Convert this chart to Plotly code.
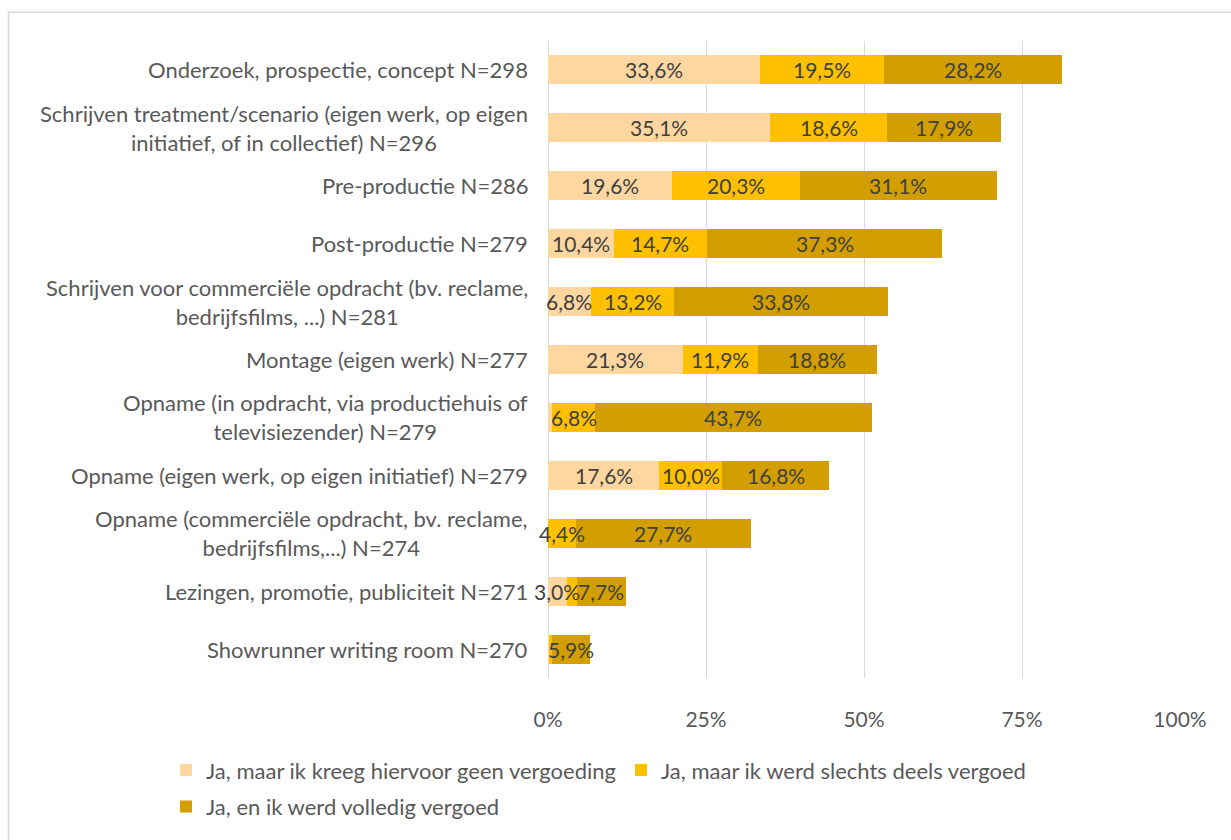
import plotly.graph_objects as go

categories = [
    "Onderzoek, prospectie, concept N=298",
    "Schrijven treatment/scenario (eigen werk, op eigen<br>initiatief, of in collectief) N=296",
    "Pre-productie N=286",
    "Post-productie N=279",
    "Schrijven voor commerciële opdracht (bv. reclame,<br>bedrijfsfilms, ...) N=281",
    "Montage (eigen werk) N=277",
    "Opname (in opdracht, via productiehuis of<br>televisiezender) N=279",
    "Opname (eigen werk, op eigen initiatief) N=279",
    "Opname (commerciële opdracht, bv. reclame,<br>bedrijfsfilms,...) N=274",
    "Lezingen, promotie, publiciteit N=271",
    "Showrunner writing room N=270",
]

geen_vergoeding = [33.6, 35.1, 19.6, 10.4, 6.8, 21.3, 0.7, 17.6, 0.0, 3.0, 0.2]
deels_vergoed = [19.5, 18.6, 20.3, 14.7, 13.2, 11.9, 6.8, 10.0, 4.4, 1.6, 0.5]
volledig_vergoed = [28.2, 17.9, 31.1, 37.3, 33.8, 18.8, 43.7, 16.8, 27.7, 7.7, 5.9]

series_names = [
    "Ja, maar ik kreeg hiervoor geen vergoeding",
    "Ja, maar ik werd slechts deels vergoed",
    "Ja, en ik werd volledig vergoed",
]
colors = ["#FED7A0", "#FFC000", "#D29E00"]
x_ticks = [0, 25, 50, 75, 100]
x_ticklabels = ["0%", "25%", "50%", "75%", "100%"]

FONT = "Lato"
FS_CAT = 22
FS_VAL = 21
FS_TICK = 21
FS_LEG = 22
W, H = 1231, 840
L, R, T, B = 548, 51, 40.6, 152.6
PW, PH = W - L - R, H - T - B


def px_x(p):
    return (p - L) / PW


def px_y(p):
    return (H - B - p) / PH


def label(v):
    return (f"{v:.1f}%".replace(".", ",")) if v >= 2 else ""


series = [geen_vergoeding, deels_vergoed, volledig_vergoed]

fig = go.Figure()
for i, (name, vals, col) in enumerate(zip(series_names, series, colors)):
    fig.add_trace(go.Bar(
        y=categories, x=vals, name=name, orientation="h",
        marker=dict(color=col, line=dict(width=0)),
        hoverinfo="skip",
        legend="legend" if i < 2 else "legend2",
    ))

# data labels on top of all bars (centred in each segment)
base = [0.0] * len(categories)
for vals in series:
    for j, v in enumerate(vals):
        t = label(v)
        if t:
            fig.add_annotation(
                x=base[j] + v / 2, xref="x", y=categories[j], yref="y",
                text=t, showarrow=False, xanchor="center", yanchor="middle",
                font=dict(family=FONT, size=FS_VAL, color="#404040"),
            )
        base[j] += v

for c in categories:
    fig.add_annotation(
        x=px_x(530), xref="paper", y=c, yref="y", text=c, showarrow=False,
        xanchor="right", yanchor="middle", align="center",
        font=dict(family=FONT, size=FS_CAT, color="#595959"),
    )

fig.add_shape(type="rect", xref="paper", yref="paper",
              x0=px_x(8.5), x1=px_x(1245), y0=px_y(11.5), y1=px_y(860),
              line=dict(color="#D9D9D9", width=1.5), fillcolor="rgba(0,0,0,0)", layer="below")
fig.add_shape(type="line", xref="x", yref="paper", x0=0, x1=0, y0=0, y1=1,
              line=dict(color="#D9D9D9", width=2), layer="below")

fig.update_layout(
    width=W, height=H,
    margin=dict(l=L, r=R, t=T, b=B, pad=0),
    paper_bgcolor="white", plot_bgcolor="white",
    barmode="stack", bargap=0.5,
    hovermode=False,
    font=dict(family=FONT, size=FS_TICK, color="#595959"),
    xaxis=dict(range=[0, 100], tickvals=x_ticks, ticktext=x_ticklabels,
               showgrid=True, gridcolor="#D9D9D9", gridwidth=1,
               zeroline=False, showline=False, ticks="",
               ticklabelstandoff=27,
               tickfont=dict(family=FONT, size=FS_TICK, color="#595959")),
    yaxis=dict(autorange="reversed", showticklabels=False, showgrid=False,
               zeroline=False, showline=False, ticks=""),
    legend=dict(orientation="h", x=px_x(166), xanchor="left", y=px_y(781), yanchor="middle",
                font=dict(family=FONT, size=FS_LEG, color="#595959"), itemwidth=30,
                bgcolor="rgba(0,0,0,0)", traceorder="normal"),
    legend2=dict(orientation="h", x=px_x(166), xanchor="left", y=px_y(818), yanchor="middle",
                 font=dict(family=FONT, size=FS_LEG, color="#595959"), itemwidth=30,
                 bgcolor="rgba(0,0,0,0)"),
    showlegend=True,
)

fig.write_html("out.html", config={"displayModeBar": False},
               post_script="document.body.style.margin='0';")
